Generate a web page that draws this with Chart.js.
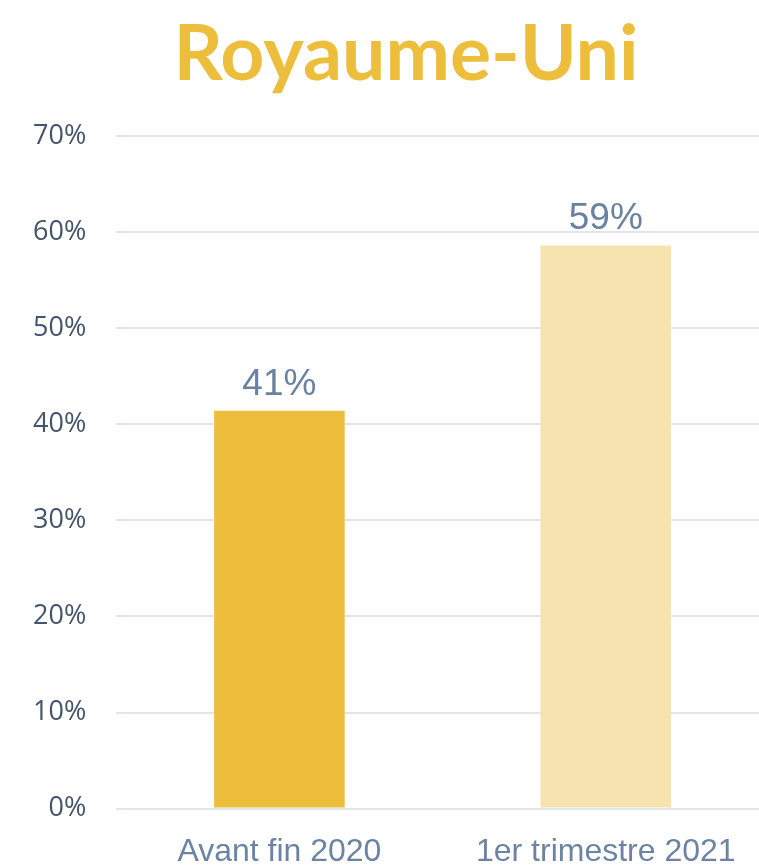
<!DOCTYPE html>
<html lang="fr">
  <head>
    <meta charset="UTF-8" />
    <title>Royaume-Uni</title>
    <script src="https://cdn.jsdelivr.net/npm/chart.js"></script>
    <style>
      html, body { margin: 0; padding: 0; background: #fff; overflow: hidden; }
      #titre {
        position: absolute; top: 2px; left: 0; width: 812px; margin: 0;
        text-align: center; font-family: Lato, sans-serif; font-weight: 700;
        font-size: 77px; color: #ECBE3C; line-height: 96px;
      }
      #zone { position: relative; width: 770px; height: 866px; }
    </style>
  </head>
  <body>
    <h1 id="titre">Royaume-Uni</h1>
    <div id="zone"><canvas id="grafico"></canvas></div>
  </body>
</html>

<script>
  const categorias = ["Avant fin 2020", "1er trimestre 2021"];
  const valores = [41.4, 58.6];
  const cores = ["#ECBE3C", "#F7E3B0"];
  const ticksY = [0, 10, 20, 30, 40, 50, 60, 70];

  // rotulos em cima das barras
  const rotulos = {
    id: "rotulos",
    afterDatasetsDraw(chart) {
      const ctx = chart.ctx;
      const meta = chart.getDatasetMeta(0);
      ctx.save();
      ctx.font = "37px 'Liberation Sans', Arial, sans-serif";
      ctx.fillStyle = "#6A81A1";
      ctx.textAlign = "center";
      ctx.textBaseline = "bottom";
      meta.data.forEach((barra, i) => {
        ctx.fillText(Math.round(valores[i]) + "%", barra.x, barra.y - 8);
      });
      ctx.restore();
    },
  };

  const config = {
    type: "bar",
    data: {
      labels: categorias,
      datasets: [
        {
          data: valores,
          backgroundColor: cores,
          barPercentage: 0.4,
          categoryPercentage: 1,
        },
      ],
    },
    options: {
      responsive: true,
      maintainAspectRatio: false,
      animation: false,
      layout: { padding: { top: 136, left: 3, right: 1, bottom: -21 } },
      scales: {
        x: {
          grid: { display: false },
          border: { display: false },
          ticks: {
            color: "#6C84A4",
            padding: 16,
            font: { family: "'Liberation Sans', Arial, sans-serif", size: 32 },
          },
        },
        y: {
          min: 0,
          max: 70,
          afterBuildTicks: (eixo) => {
            eixo.ticks = ticksY.map((v) => ({ value: v }));
          },
          border: { display: false },
          grid: { color: "#E1E4E8", lineWidth: 2, drawTicks: false },
          ticks: {
            color: "#44546A",
            padding: 30,
            font: { family: "'Open Sans', sans-serif", size: 27 },
            callback: (v) => v + "%",
          },
        },
      },
      plugins: {
        legend: { display: false },
        tooltip: { enabled: false },
      },
    },
    plugins: [rotulos],
  };

  new Chart(document.getElementById("grafico"), config);
</script>
